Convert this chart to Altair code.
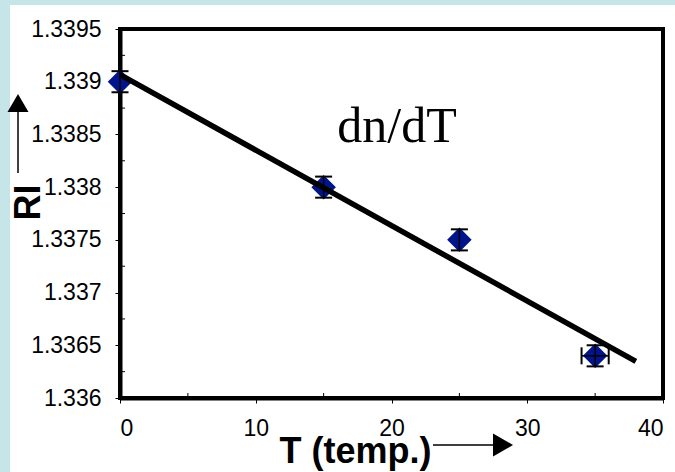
import altair as alt
import pandas as pd

# ---- data ----
T = [0, 15, 25, 35]
RI = [1.339, 1.338, 1.3375, 1.3364]
RI_ERR = [0.0001, 0.0001, 0.0001, 0.0001]
T_ERR = [0, 0, 0, 1]
FIT_EXTENT = [0, 38]

X_TICKS = [0, 10, 20, 30, 40]
X_MINOR = [5, 15, 25, 35]
Y_TICKS = [1.336, 1.3365, 1.337, 1.3375, 1.338, 1.3385, 1.339, 1.3395]
Y_MINOR = [1.33625, 1.33675, 1.33725, 1.33775, 1.33825, 1.33875, 1.33925]

W, H = 543, 369
FONT = "Liberation Sans"
BLUE = "#00148c"
LIGHT = "#c6e5e9"

df = pd.DataFrame({"T": T, "RI": RI, "RI_ERR": RI_ERR, "T_ERR": T_ERR})
xs = alt.Scale(domain=[0, 40], nice=False, zero=False)
ys = alt.Scale(domain=[1.336, 1.3395], nice=False, zero=False)

x_axis = alt.Axis(
    values=X_TICKS, format="d", grid=False, title="T (temp.)",
    labelFont=FONT, labelFontSize=23, labelColor="black", labelPadding=14,
    tickColor="black", tickSize=5, tickWidth=1,
    domainColor="black", domainWidth=4,
    titleFont=FONT, titleFontSize=36, titleFontWeight="bold", titleColor="black",
    titleX=235, titleY=64, titleAlign="center", titleBaseline="alphabetic",
)
y_axis = alt.Axis(
    values=Y_TICKS, format=".5~f", grid=False, title="RI",
    labelFont=FONT, labelFontSize=23, labelColor="black", labelPadding=14,
    tickColor="black", tickSize=5, tickWidth=1,
    domainColor="black", domainWidth=4,
    titleFont=FONT, titleFontSize=36, titleFontWeight="bold", titleColor="black",
    titleAngle=270, titleX=-92, titleY=173, titleAlign="center", titleBaseline="middle",
)


def X(f):
    return alt.X(f, scale=xs, axis=x_axis)


def Y(f):
    return alt.Y(f, scale=ys, axis=y_axis)


one = pd.DataFrame({"a": [0]})
base = alt.Chart(df)

points = base.mark_point(shape="diamond", filled=True, size=600, color=BLUE,
                         opacity=1, strokeWidth=0).encode(x=X("T:Q"), y=Y("RI:Q"))

# light-blue strips at left and top
strip_left = alt.Chart(one).mark_rect(color=LIGHT).encode(
    x=alt.value(-120), x2=alt.value(-110), y=alt.value(-29), y2=alt.value(H + 74))
strip_top = alt.Chart(one).mark_rect(color=LIGHT).encode(
    x=alt.value(-120), x2=alt.value(W + 12), y=alt.value(-29), y2=alt.value(-24))

# minor ticks (inside)
yminor = alt.Chart(pd.DataFrame({"RI": Y_MINOR})).mark_rule(color="black", strokeWidth=1).encode(
    y=Y("RI:Q"), x=alt.value(0), x2=alt.value(5))
xminor = alt.Chart(pd.DataFrame({"T": X_MINOR})).mark_rule(color="black", strokeWidth=1).encode(
    x=X("T:Q"), y=alt.value(H), y2=alt.value(H - 5))

err = base.transform_calculate(
    lo="datum.RI - datum.RI_ERR", hi="datum.RI + datum.RI_ERR",
    tlo="datum.T - datum.T_ERR", thi="datum.T + datum.T_ERR")

ybar = err.mark_rule(color="black", strokeWidth=1.5).encode(
    x=X("T:Q"), y=Y("lo:Q"), y2="hi:Q")
ycap_lo = err.mark_rule(color="black", strokeWidth=2, xOffset=-8.5, x2Offset=8.5).encode(
    x=X("T:Q"), x2="T:Q", y=Y("lo:Q"))
ycap_hi = err.mark_rule(color="black", strokeWidth=2, xOffset=-8.5, x2Offset=8.5).encode(
    x=X("T:Q"), x2="T:Q", y=Y("hi:Q"))

xerr = err.transform_filter("datum.T_ERR > 0")
xbar = xerr.mark_rule(color="black", strokeWidth=1.5).encode(
    x=X("tlo:Q"), x2="thi:Q", y=Y("RI:Q"))
xcap_lo = xerr.mark_rule(color="black", strokeWidth=2, yOffset=-8.5, y2Offset=8.5).encode(
    x=X("tlo:Q"), y=Y("RI:Q"), y2="RI:Q")
xcap_hi = xerr.mark_rule(color="black", strokeWidth=2, yOffset=-8.5, y2Offset=8.5).encode(
    x=X("thi:Q"), y=Y("RI:Q"), y2="RI:Q")

fit = base.transform_regression("T", "RI", extent=FIT_EXTENT).mark_line(
    color="black", strokeWidth=5.5).encode(x=X("T:Q"), y=Y("RI:Q"))

label = alt.Chart(one).mark_text(
    text="dn/dT", font="Liberation Serif", fontSize=50, color="black",
    align="center", baseline="alphabetic").encode(
    x=alt.value(277), y=alt.value(113))

# axis arrows
y_arrow_line = alt.Chart(one).mark_rule(color="black", strokeWidth=1.5).encode(
    x=alt.value(-102), y=alt.value(83), y2=alt.value(144))
y_arrow_head = alt.Chart(one).mark_point(
    shape="triangle-up", filled=True, size=441, color="black", opacity=1).encode(
    x=alt.value(-102), y=alt.value(74))
x_arrow_line = alt.Chart(one).mark_rule(color="black", strokeWidth=1.5).encode(
    x=alt.value(313), x2=alt.value(375), y=alt.value(416))
x_arrow_head = alt.Chart(one).mark_point(
    shape="triangle-right", filled=True, size=533, color="black", opacity=1).encode(
    x=alt.value(383), y=alt.value(416))

chart = alt.layer(
    points, strip_left, strip_top, yminor, xminor,
    ybar, ycap_lo, ycap_hi, xbar, xcap_lo, xcap_hi, fit, label,
    y_arrow_line, y_arrow_head, x_arrow_line, x_arrow_head,
).properties(
    width=W, height=H,
    autosize=alt.AutoSizeParams(type="none"),
    padding={"left": 120, "top": 29, "right": 12, "bottom": 74},
    background="white",
).configure_view(stroke="black", strokeWidth=4)

chart.save("out.html", embed_options={"renderer": "svg", "actions": False})
